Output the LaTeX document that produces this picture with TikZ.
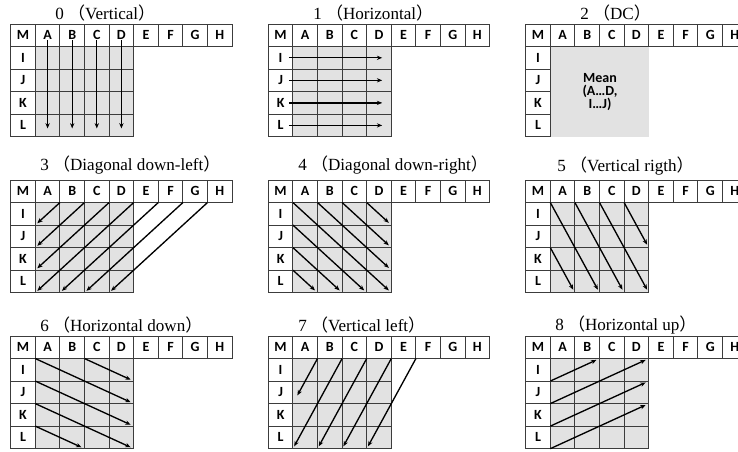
\documentclass[tikz,border=0pt]{standalone}
\usepackage{fontspec}
\setmainfont{Liberation Serif}
\newfontfamily\cellfont{Carlito}
\newfontfamily\cjk{Noto Sans CJK SC}
\usetikzlibrary{arrows.meta, positioning, calc}
\definecolor{cellgray}{RGB}{226,226,226}
\definecolor{gridline}{RGB}{60,60,60}

\begin{document}
\begin{tikzpicture}[
  x=0.75pt, y=-0.75pt, >={Stealth[length=4pt, width=3.2pt]},
  hcell/.style   = {draw=gridline, line width=0.75pt, fill=white, inner sep=0pt, outer sep=0pt,
                    minimum width=18.45pt, minimum height=16.9pt,
                    font=\cellfont\bfseries\fontsize{10.5}{11}\selectfont},
  bcell/.style   = {hcell, fill=cellgray},
  meanbox/.style = {fill=cellgray, inner sep=0pt, minimum width=73.4pt, minimum height=67.2pt,
                    align=center, font=\cellfont\bfseries\fontsize{10.5}{9.5}\selectfont},
  ptitle/.style  = {anchor=west, inner sep=0pt, font=\fontsize{12.8}{14}\selectfont},
  scan/.style    = {->, line width=1pt},
]
\useasboundingbox (0,0) rectangle (738,451);

% header row and row labels of every mode
\foreach \n/\px/\py/\tx/\ty/\ptext in {
    0/10.7/24/55/13.5/Vertical, 1/268.3/24/313/13.5/Horizontal, 2/525.7/24/580/13.5/DC,
    3/10.7/180/40/165/Diagonal down-left, 4/268.3/180/298/165/Diagonal down-right,
    5/525.7/180/557/166/Vertical rigth,
    6/10.7/336/40/325/Horizontal down, 7/268.3/336/298/325/Vertical left,
    8/525.7/336/555/325/Horizontal up}{
  \node[ptitle] (\n-title) at (\tx,\ty) {\n\ {\cjk （}\ptext{\cjk ）}};
  \node[hcell, anchor=north west] (\n-M) at (\px,\py) {M};
  \foreach \col [remember=\col as \prev (initially M)] in {A,B,C,D,E,F,G,H}
    \node[hcell, right=0pt of \n-\prev] (\n-\col) {\col};
  \foreach \rw [remember=\rw as \up (initially M)] in {I,J,K,L}
    \node[hcell, below=0pt of \n-\up] (\n-\rw) {\rw};
}

% predicted 4x4 block
\foreach \n in {0,1,3,4,5,6,7,8}
  \foreach \col in {A,B,C,D}
    \foreach \rw in {I,J,K,L}
      \node[bcell] (\n-\col-\rw) at (\n-\col |- \n-\rw) {};

\node[meanbox, anchor=north west] (2-mean) at ([shift={(0.4pt,-0.4pt)}]2-I.north east)
  {Mean\\(A…D,\\I…J)};

% 0 and 1
\foreach \col in {A,B,C,D}
  \draw[scan] ([yshift=-3.6pt]0-\col.center) -- ([yshift=-2.3pt]0-\col-L.center);
\foreach \rw in {I,J,K,L}
  \draw[scan] ([xshift=-3pt]1-\rw.east) -- ([xshift=2.4pt]1-D-\rw.center);

% down-left type
\foreach \a/\b in {3-A/3-A-I, 3-B/3-A-J, 3-C/3-A-K, 3-D/3-A-L, 3-E/3-B-L, 3-F/3-C-L, 3-G/3-D-L,
                   7-B/7-A-L, 7-C/7-B-L, 7-D/7-C-L, 7-E/7-D-L}
  \draw[scan, shorten >=2pt] (\a.south east) -- (\b.south west);
\draw[scan, shorten >=7pt] (7-A.south east) -- (7-A-J.south west);

% down-right and up-right type
\foreach \a/\b in {4-C/4-D-I, 4-B/4-D-J, 4-A/4-D-K, 4-M/4-D-L, 4-I/4-C-L, 4-J/4-B-L, 4-K/4-A-L,
                   5-M/5-B-L, 5-A/5-C-L, 5-B/5-D-L, 5-C/5-D-J, 5-J/5-A-L,
                   6-M/6-D-J, 6-B/6-D-I, 6-I/6-D-K, 6-J/6-D-L, 6-K/6-B-L,
                   8-I/8-B, 8-J/8-D, 8-K/8-D-I, 8-L/8-D-J}
  \draw[scan, shorten >=2.5pt] (\a.south east) -- (\b.south east);
\end{tikzpicture}
\end{document}
